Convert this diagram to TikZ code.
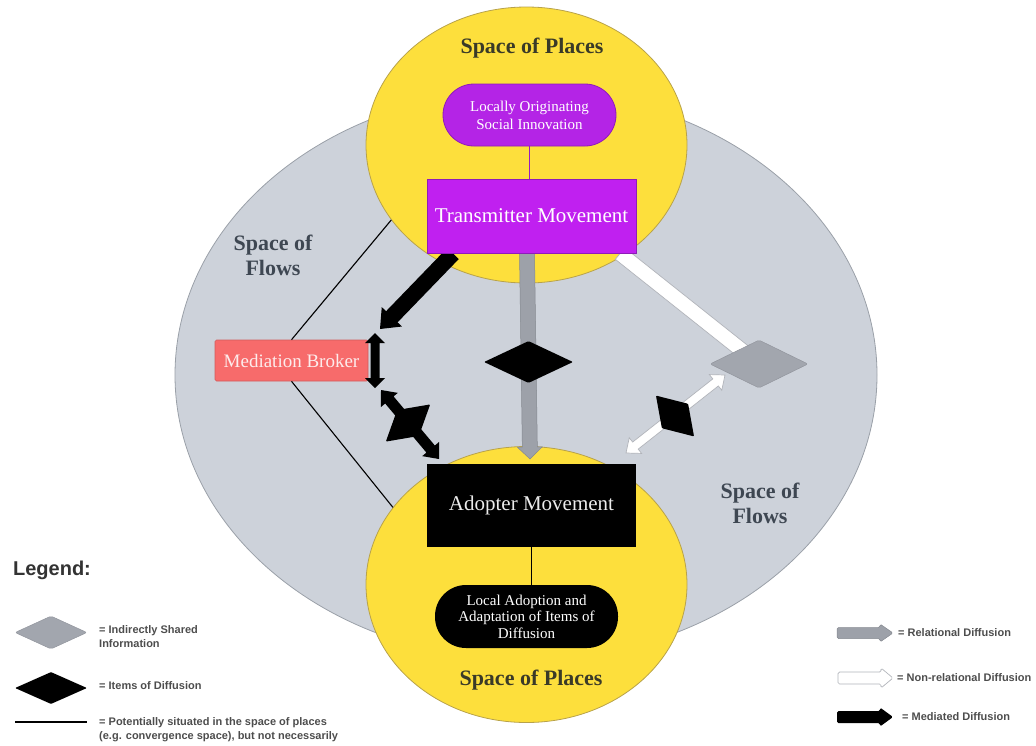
\documentclass[tikz,border=0pt]{standalone}
\usepackage{fontspec}
\setmainfont{Liberation Serif}
\newfontfamily\legfont{Liberation Sans}
\usetikzlibrary{shapes.geometric,calc}

\definecolor{flowgrey}{HTML}{CDD2DA}
\definecolor{flowedge}{HTML}{9AA0A8}
\definecolor{placeyellow}{HTML}{FDDF3C}
\definecolor{placeedge}{HTML}{B8A24A}
\definecolor{tmpurple}{HTML}{C020F0}
\definecolor{pillpurple}{HTML}{B424E6}
\definecolor{purpleedge}{HTML}{8E1CB8}
\definecolor{brokerred}{HTML}{F76B6B}
\definecolor{relgrey}{HTML}{9DA1A9}
\definecolor{infogrey}{HTML}{A2A6AE}
\definecolor{placetext}{HTML}{3A3A28}
\definecolor{flowtext}{HTML}{3E4752}
\definecolor{legtextcol}{HTML}{4D4D4D}
\definecolor{legtitle}{HTML}{333333}

% block arrow: #1 style, #2 from, #3 to, #4 half shaft, #5 half head, #6 head length
\newcommand\blockarrow[6]{%
  \coordinate (bah) at ($(#3)!#6pt!(#2)$);
  \path[#1] ($(#2)!#4pt!90:(#3)$) -- ($(bah)!#4pt!90:(#3)$) -- ($(bah)!#5pt!90:(#3)$) -- (#3)
    -- ($(bah)!#5pt!-90:(#3)$) -- ($(bah)!#4pt!-90:(#3)$) -- ($(#2)!#4pt!-90:(#3)$) -- cycle;}
% double-headed block arrow
\newcommand\dblarrow[6]{%
  \coordinate (bah) at ($(#3)!#6pt!(#2)$);
  \coordinate (bat) at ($(#2)!#6pt!(#3)$);
  \path[#1] (#2) -- ($(bat)!#5pt!90:(#3)$) -- ($(bat)!#4pt!90:(#3)$) -- ($(bah)!#4pt!90:(#3)$)
    -- ($(bah)!#5pt!90:(#3)$) -- (#3) -- ($(bah)!#5pt!-90:(#3)$) -- ($(bah)!#4pt!-90:(#3)$)
    -- ($(bat)!#4pt!-90:(#3)$) -- ($(bat)!#5pt!-90:(#3)$) -- cycle;}

\tikzset{
  placeshape/.style={ellipse, fill=placeyellow, draw=placeedge, line width=0.8pt, inner sep=0pt,
    minimum width=321pt, minimum height=276pt},
  movebox/.style={rectangle, inner sep=0pt, minimum width=209pt, text=white,
    font=\fontsize{21}{25}\selectfont},
  pillshape/.style={rectangle, rounded corners=31pt, inner sep=0pt, text=white, align=center,
    font=\fontsize{15}{18}\selectfont},
  brokerbox/.style={rectangle, rounded corners=1.5pt, fill=brokerred, draw=brokerred!85!black,
    line width=0.6pt, inner sep=0pt, minimum width=153pt, minimum height=41pt,
    text={rgb,255:red,253;green,236;blue,236}, font=\fontsize{19}{22}\selectfont},
  itemdia/.style={diamond, fill=black, inner sep=0pt, rounded corners=1pt},
  infodia/.style={diamond, fill=infogrey, draw=infogrey!90!black, line width=0.5pt, inner sep=0pt, rounded corners=2pt},
  placelabel/.style={text=placetext, font=\bfseries\fontsize{22}{25}\selectfont},
  flowlabel/.style={text=flowtext, align=center, font=\bfseries\fontsize{22}{25}\selectfont},
  legtext/.style={anchor=west, text=legtextcol, align=left, inner sep=0pt,
    font=\legfont\bfseries\fontsize{11}{13.5}\selectfont},
  linkline/.style={draw=black, line width=1.1pt},
  relfill/.style={fill=relgrey, draw=relgrey!85!black, line width=0.5pt},
  whitefill/.style={fill=white, draw=relgrey!80!white, line width=0.7pt},
  medfill/.style={fill=black}
}

\begin{document}
\begin{tikzpicture}[x=1pt, y=-1pt]
\useasboundingbox (0,0) rectangle (1036,745);

% background spaces
\node[ellipse, fill=flowgrey, draw=flowedge, line width=0.8pt, inner sep=0pt,
  minimum width=702pt, minimum height=570pt] (flows) at (526,375) {};
\node[placeshape] (topPlace) at (526.5,145) {};
\node[placeshape] (botPlace) at (526.5,584.5) {};

% nodes
\node[placelabel] (topLabel) at (532,48) {Space of Places};
\node[placelabel] (botLabel) at (531,680) {Space of Places};
\node[flowlabel] (flowsL) at (273,255) {Space of\\Flows};
\node[flowlabel] (flowsR) at (760,503) {Space of\\Flows};

\node[pillshape, fill=pillpurple, draw=purpleedge, line width=0.8pt, minimum width=173pt,
  minimum height=62pt] (origin) at (529.5,115) {Locally Originating\\Social Innovation};
\node[movebox, fill=tmpurple, draw=purpleedge, line width=0.6pt, minimum height=74pt]
  (tm) at (531.5,216) {Transmitter Movement};
\node[movebox, fill=black, minimum height=83pt, text={rgb,255:red,235;green,235;blue,235}]
  (am) at (531.5,505.5) {Adopter Movement};
\node[pillshape, fill=black, minimum width=183pt, minimum height=63pt,
  font=\fontsize{15}{16.5}\selectfont] (local) at (526.5,616.5)
  {Local Adoption and\\Adaptation of Items of\\Diffusion};
\node[brokerbox] (broker) at (291.5,360.5) {Mediation Broker};

% thin links
\draw[linkline] (topPlace.209.5) -- (broker.north);
\draw[linkline] (broker.south) -- (botPlace.150.2);
\draw[draw=purpleedge!80!tmpurple, line width=1.4pt] (origin.south) -- (origin.south |- tm.north);
\draw[draw=black, line width=1.6pt] (am.south) -- (am.south |- local.north);

% coordinates of arrow ends
\coordinate (relS) at (527,253.5);
\coordinate (relE) at (530,459);
\coordinate (medS) at (453,253.5);
\coordinate (medE) at (380,329);
\coordinate (v1) at (375,333);
\coordinate (v2) at (375,388);
\coordinate (d1) at (381,390);
\coordinate (d2) at (439,459);
\coordinate (w1) at (620,253.5);
\coordinate (w2) at (759,364);
\coordinate (wd1) at (725,375);
\coordinate (wd2) at (626,453);

% arrows
\blockarrow{relfill}{relS}{relE}{7.5}{12.5}{12}
\blockarrow{medfill}{medS}{medE}{8}{14}{17}
\dblarrow{medfill}{v1}{v2}{4.5}{10}{10}
\dblarrow{medfill}{d1}{d2}{5.5}{11}{13}
\blockarrow{whitefill}{w1}{w2}{7.5}{13}{15}
\dblarrow{whitefill}{wd1}{wd2}{4.5}{10}{12}

% items / information
\node[itemdia, minimum width=89pt, minimum height=42pt] (item1) at (528.5,362) {};
\node[itemdia, minimum width=58pt, minimum height=34pt, rotate=40] (item2) at (408,423) {};
\node[itemdia, minimum width=56pt, minimum height=36pt, rotate=-47] (item3) at (675,416) {};
\node[infodia, minimum width=98pt, minimum height=48pt] (info) at (759,364) {};

% redraw transmitter box edge over arrow starts
\node[movebox, fill=tmpurple, draw=purpleedge, line width=0.6pt, minimum height=74pt]
  at (531.5,216) {Transmitter Movement};

% legend
\node[text=legtitle, font=\legfont\bfseries\fontsize{20}{24}\selectfont] (legend) at (52,570) {Legend:};
\node[infodia, minimum width=72pt, minimum height=33pt] (lg1) at (51,632.5) {};
\node[itemdia, minimum width=72pt, minimum height=32pt] (lg2) at (51,688) {};
\coordinate (ll1) at (15,722);
\coordinate (ll2) at (87,722);
\draw[draw=black, line width=1.5pt] (ll1) -- (ll2);
\node[legtext] (lt1) at (99,636.5) {= Indirectly Shared\\Information};
\node[legtext] (lt2) at (99,686) {= Items of Diffusion};
\node[legtext] (lt3) at (99,729.5) {= Potentially situated in the space of places\\(e.g. convergence space), but not necessarily};

\coordinate (la1s) at (837,633);
\coordinate (la1e) at (893,633);
\coordinate (la2s) at (838,678);
\coordinate (la2e) at (893,678);
\coordinate (la3s) at (837,717);
\coordinate (la3e) at (893,717);
\blockarrow{relfill, rounded corners=1.5pt}{la1s}{la1e}{5.5}{9}{13}
\blockarrow{whitefill, rounded corners=1.5pt}{la2s}{la2e}{6}{10}{12}
\blockarrow{medfill, rounded corners=1.5pt}{la3s}{la3e}{6}{9.5}{13}
\node[legtext] (rt1) at (898,633) {= Relational Diffusion};
\node[legtext] (rt2) at (897,678) {= Non-relational Diffusion};
\node[legtext] (rt3) at (902,717) {= Mediated Diffusion};
\end{tikzpicture}
\end{document}
